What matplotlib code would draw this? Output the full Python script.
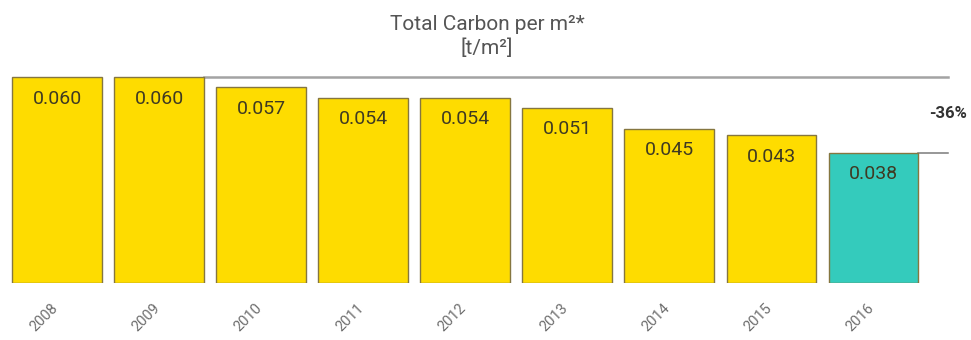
import matplotlib

matplotlib.use("Agg")
import matplotlib.pyplot as plt

plt.rcParams["font.family"] = ["Roboto", "DejaVu Sans"]

years = ["2008", "2009", "2010", "2011", "2012", "2013", "2014", "2015", "2016"]
carbon = [0.060, 0.060, 0.057, 0.054, 0.054, 0.051, 0.045, 0.043, 0.038]
change_label = "-36%"

YELLOW = "#FEDC00"
TEAL = "#34CBBC"
BAR_W = 0.88

fig = plt.figure(figsize=(9.71, 3.40), dpi=100)
# axes fills the width; baseline sits 57 px above the bottom edge
ax = fig.add_axes([0, 57 / 340, 1, 283 / 340])
ax.set_xlim(-57 / 102.06, (971 - 57) / 102.06)
ax.set_ylim(0, max(carbon) * 283 / 206)
ax.axis("off")

x = list(range(len(years)))
colors = [YELLOW] * (len(years) - 1) + [TEAL]
ax.bar(x, carbon, width=BAR_W, color=colors, edgecolor="#857640", linewidth=1.0, zorder=3)

for xi, v in zip(x, carbon):
    ax.annotate(f"{v:.3f}", (xi, v), xytext=(0, -15.5), textcoords="offset points",
                ha="center", va="center", fontsize=14, color="#3f3a22", zorder=4)

# reference lines: first-year level and last-year level, ending past the last bar
x_end = (948 - 57) / 102.06
ax.plot([1 + BAR_W / 2, x_end], [carbon[0], carbon[0]], color="#a3a3a3", lw=1.8, zorder=1)
ax.plot([x[-1] + BAR_W / 2, x_end], [carbon[-1], carbon[-1]], color="#7a7a7a", lw=1.1, zorder=1)
ax.text(x_end, (carbon[0] + carbon[-1]) / 2 + 0.0005, change_label, ha="center", va="center",
        fontsize=12, fontweight="bold", color="#333333")

for xi, yr in zip(x, years):
    ax.annotate(yr, (xi, 0), xytext=(-9.5, -25), textcoords="offset points",
                ha="center", va="center", rotation=45, fontsize=10.5, color="#6e6e6e",
                annotation_clip=False)

fig.text(487 / 971, 1 - 25 / 340, "Total Carbon per m²*", ha="center", va="center",
         fontsize=15, color="#555555")
fig.text(487 / 971, 1 - 48 / 340, "[t/m²]", ha="center", va="center",
         fontsize=15, color="#555555")

fig.savefig("out.png", dpi=100, facecolor="white")
